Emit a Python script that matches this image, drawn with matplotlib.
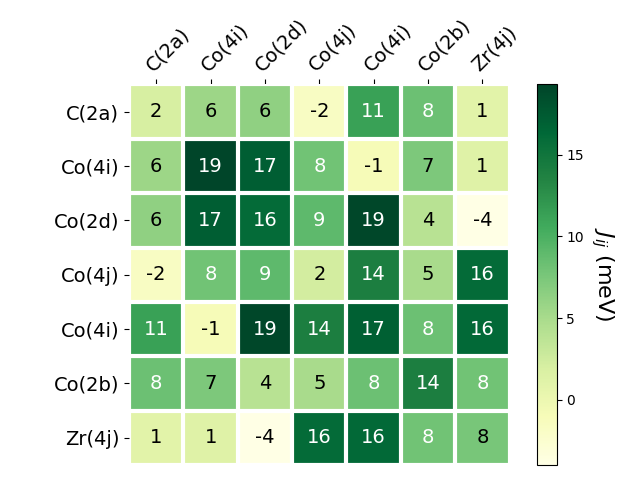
import numpy as np
import matplotlib.pyplot as plt

# site labels
sites = ["C(2a)", "Co(4i)", "Co(2d)", "Co(4j)", "Co(4i)", "Co(2b)", "Zr(4j)"]

# exchange couplings J_ij (meV)
row_c2a = [2.0, 5.6, 6.3, -1.8, 11.2, 8.2, 1.0]
row_co4i = [5.6, 19.3, 17.2, 8.0, -1.0, 7.3, 1.2]
row_co2d = [6.3, 17.2, 16.0, 9.0, 19.1, 4.0, -4.0]
row_co4j = [-1.8, 8.0, 9.0, 2.2, 14.0, 5.0, 16.0]
row_co4i_b = [11.2, -1.0, 19.1, 14.0, 17.0, 8.2, 16.2]
row_co2b = [8.2, 7.3, 4.0, 5.0, 8.2, 14.0, 8.0]
row_zr4j = [1.0, 1.2, -4.0, 16.0, 16.2, 8.0, 7.6]

J = np.array([row_c2a, row_co4i, row_co2d, row_co4j, row_co4i_b, row_co2b, row_zr4j])

fig, ax = plt.subplots(figsize=(6.4, 4.8), dpi=100)

im = ax.imshow(J, cmap="YlGn")
cbar = fig.colorbar(im, ax=ax)
cbar.ax.set_ylabel("$J_{ij}$ (meV)", rotation=-90, va="bottom", fontsize=16)

ax.set_xticks(np.arange(len(sites)))
ax.set_yticks(np.arange(len(sites)))
ax.set_xticklabels(sites, fontsize=14)
ax.set_yticklabels(sites, fontsize=14)
ax.tick_params(top=True, bottom=False, labeltop=True, labelbottom=False)
plt.setp(ax.get_xticklabels(), rotation=45, ha="left", rotation_mode="anchor")

for s in ax.spines.values():
    s.set_visible(False)
ax.set_xticks(np.arange(len(sites) + 1) - .5, minor=True)
ax.set_yticks(np.arange(len(sites) + 1) - .5, minor=True)
ax.grid(which="minor", color="w", linestyle="-", linewidth=3)
ax.tick_params(which="minor", bottom=False, left=False, top=False)

# white text on dark cells
threshold = im.norm(J.max()) / 2.
for i in range(J.shape[0]):
    for j in range(J.shape[1]):
        color = "white" if im.norm(J[i, j]) > threshold else "black"
        ax.text(j, i, "{:.0f}".format(J[i, j]), ha="center", va="center",
                color=color, fontsize=14)

fig.tight_layout()
plt.savefig("out.png")
